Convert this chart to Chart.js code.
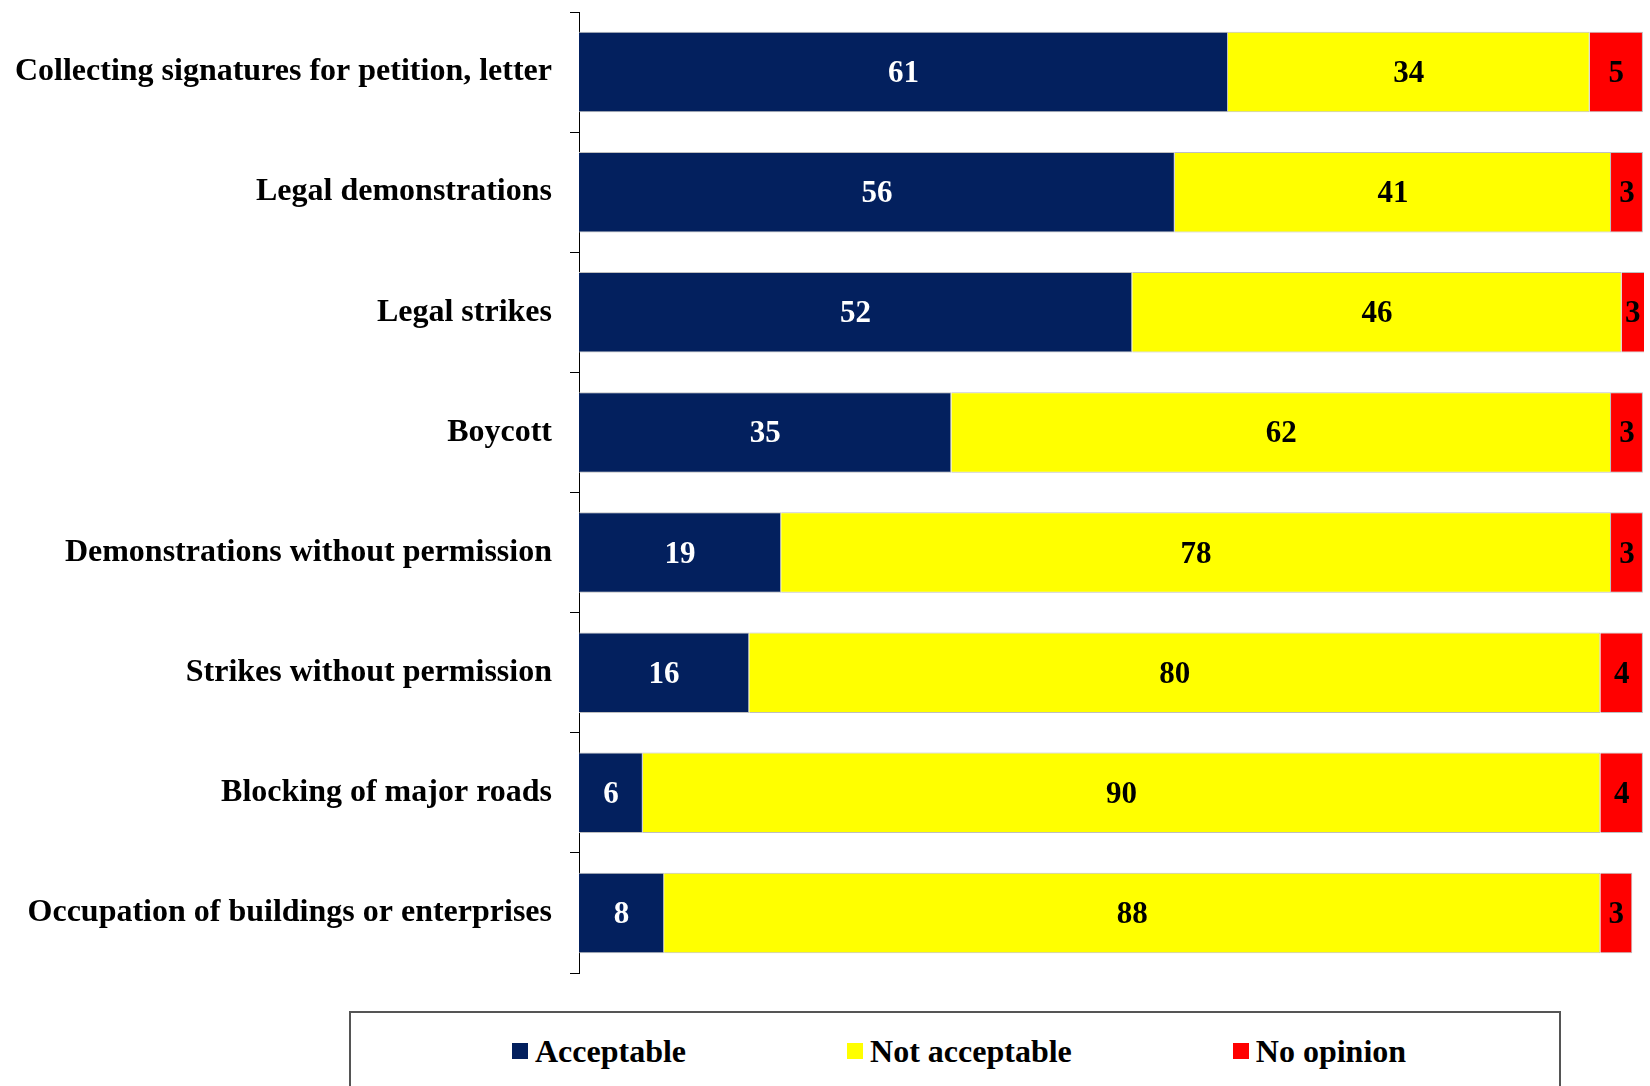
<!DOCTYPE html>
<html>
<head>
<meta charset="utf-8">
<script src="https://cdn.jsdelivr.net/npm/chart.js@4"></script>
<style>
  html, body { margin: 0; padding: 0; background: #fff; overflow: hidden; }
  #wrap { position: relative; width: 1650px; height: 1086px; }
  #legend {
    position: absolute; left: 349px; top: 1011px; width: 1208px; height: 120px;
    border: 2px solid #555; background: #fff; box-sizing: content-box;
  }
  #legend .row {
    position: absolute; left: 161px; top: 22px; display: flex; align-items: center;
    gap: 161px; height: 32px;
  }
  #legend .item { display: flex; align-items: center; white-space: nowrap;
    font: bold 32px "Liberation Serif", "Times New Roman", serif; color: #000; }
  #legend .box { width: 16px; height: 16px; margin-right: 7px; }
</style>
</head>
<body>
<div id="wrap">
  <canvas id="chart" width="1650" height="1086"></canvas>
  <div id="legend"><div class="row"></div></div>
</div>
<script>
const categories = [
  "Collecting signatures for petition, letter",
  "Legal demonstrations",
  "Legal strikes",
  "Boycott",
  "Demonstrations without permission",
  "Strikes without permission",
  "Blocking of major roads",
  "Occupation of buildings or enterprises"
];
const acceptable = [61, 56, 52, 35, 19, 16, 6, 8];
const notAcceptable = [34, 41, 46, 62, 78, 80, 90, 88];
const noOpinion = [5, 3, 3, 3, 3, 4, 4, 3];

const seriesNames = ["Acceptable", "Not acceptable", "No opinion"];
const seriesColors = ["#03205E", "#FFFF00", "#FF0000"];
const labelColors = ["#FFFFFF", "#000000", "#000000"];

const serif = '"Liberation Serif", "Times New Roman", serif';

// draws the value in the middle of each segment
const valueLabels = {
  id: "valueLabels",
  afterDatasetsDraw(chart) {
    const ctx = chart.ctx;
    const area = chart.chartArea;
    ctx.save();
    ctx.font = "bold 31px " + serif;
    ctx.textAlign = "center";
    ctx.textBaseline = "middle";
    chart.data.datasets.forEach(function (ds, i) {
      const meta = chart.getDatasetMeta(i);
      meta.data.forEach(function (bar, j) {
        const right = Math.min(bar.x, area.right);
        const x = (bar.base + right) / 2;
        ctx.fillStyle = labelColors[i];
        ctx.fillText(String(ds.data[j]), x, bar.y + 2);
      });
    });
    ctx.restore();
  }
};

const chart = new Chart(document.getElementById("chart").getContext("2d"), {
  type: "bar",
  data: {
    labels: categories,
    datasets: [acceptable, notAcceptable, noOpinion].map(function (values, i) {
      return {
        label: seriesNames[i],
        data: values,
        backgroundColor: seriesColors[i],
        borderColor: "#BFBFBF",
        borderWidth: 1,
        borderSkipped: "start",
        barPercentage: 0.67,
        categoryPercentage: 1
      };
    })
  },
  options: {
    indexAxis: "y",
    responsive: false,
    animation: false,
    devicePixelRatio: 1,
    layout: { padding: { top: 12, right: 6, bottom: 113, left: 0 } },
    plugins: {
      legend: { display: false },
      tooltip: { enabled: false }
    },
    scales: {
      x: {
        stacked: true,
        display: false,
        min: 0,
        max: 100.1
      },
      y: {
        stacked: true,
        afterFit: function (scale) {
          scale.width = 579;
          scale.paddingTop = 0;
          scale.paddingBottom = 0;
        },
        grid: {
          display: true,
          drawOnChartArea: false,
          drawTicks: true,
          tickLength: 9,
          color: "#000",
          offset: true
        },
        border: { display: true, color: "#000", width: 1 },
        ticks: {
          padding: 18,
          color: "#000",
          font: { family: serif, size: 32, weight: "bold" }
        }
      }
    }
  },
  plugins: [valueLabels]
});

// html legend built from the chart's datasets
const row = document.querySelector("#legend .row");
chart.data.datasets.forEach(function (ds) {
  const item = document.createElement("div");
  item.className = "item";
  const box = document.createElement("span");
  box.className = "box";
  box.style.background = ds.backgroundColor;
  item.appendChild(box);
  item.appendChild(document.createTextNode(ds.label));
  row.appendChild(item);
});
</script>
</body>
</html>
